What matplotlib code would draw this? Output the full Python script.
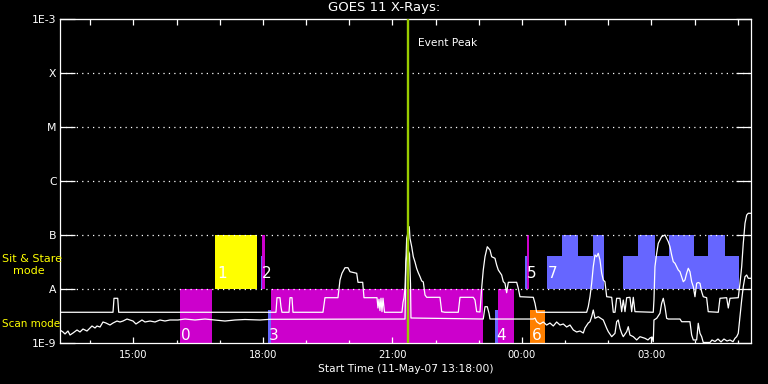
import numpy as np
import matplotlib
matplotlib.use("Agg")
import matplotlib.pyplot as plt
from matplotlib.ticker import NullLocator, NullFormatter

plt.rcParams["lines.scale_dashes"] = False
plt.rcParams["font.family"] = ["DejaVu Sans"]

# ---- GOES 11 data (hours since 11-May-07 13:18, log10 flux W/m^2) ----
long_hours = [
    0.000, 1.228, 1.251, 1.337, 1.360, 5.003, 5.027, 5.096, 5.119, 5.142,
    5.305, 5.328, 5.374, 5.397, 6.092, 6.138, 6.439, 6.486, 6.532, 6.602,
    6.671, 6.718, 6.873, 6.903, 7.012, 7.042, 7.343, 7.366, 7.389, 7.412,
    7.436, 7.459, 7.482, 7.517, 7.922, 7.945, 7.969, 7.992, 8.031, 8.091,
    8.107, 8.147, 8.184, 8.223, 8.262, 8.300, 8.339, 8.378, 8.416, 8.455,
    8.494, 8.802, 8.842, 8.918, 9.226, 9.266, 9.574, 9.613, 9.652, 9.729,
    9.768, 9.805, 9.845, 9.898, 9.961, 10.000, 10.076, 10.115, 10.153, 10.231,
    10.269, 10.308, 10.347, 10.385, 10.579, 10.616, 10.655, 10.964, 11.003, 11.042,
    12.200, 12.237, 12.277, 12.316, 12.353, 12.393, 12.432, 12.469, 12.509, 12.548,
    12.585, 12.624, 12.664, 12.780, 12.817, 12.856, 12.895, 12.972, 13.011, 13.048,
    13.088, 13.127, 13.203, 13.243, 13.280, 13.319, 13.743, 13.759, 13.782, 13.822,
    13.859, 13.937, 14.014, 14.053, 14.091, 14.130, 14.169, 14.206, 14.246, 14.285,
    14.322, 14.362, 14.401, 14.438, 14.477, 14.516, 14.554, 14.593, 14.632, 14.670,
    14.709, 14.748, 14.785, 14.825, 14.864, 14.901, 14.979, 15.016, 15.249, 15.288,
    15.443, 15.481, 15.520, 15.712, 15.752, 15.791, 15.828, 15.868, 15.907, 15.944, 16.000,
]
long_log10 = [
    -8.431, -8.431, -8.172, -8.172, -8.431, -8.431, -8.161, -8.161, -8.333, -8.431,
    -8.431, -8.161, -8.161, -8.431, -8.431, -8.161, -8.161, -7.833, -7.709, -7.606,
    -7.606, -7.680, -7.709, -7.876, -7.876, -8.161, -8.161, -8.352, -8.190, -8.400,
    -8.170, -8.420, -8.170, -8.431, -8.431, -8.250, -8.161, -7.980, -7.060, -6.846,
    -7.060, -7.217, -7.402, -7.500, -7.620, -7.700, -7.770, -7.850, -7.870, -8.110,
    -8.154, -8.154, -8.420, -8.431, -8.431, -8.154, -8.154, -8.204, -8.420, -8.426,
    -7.981, -7.648, -7.402, -7.217, -7.278, -7.402, -7.431, -7.556, -7.648, -7.741,
    -7.865, -7.894, -8.069, -7.876, -7.876, -7.987, -8.143, -8.154, -8.265, -8.431,
    -8.431, -8.328, -8.143, -7.894, -7.587, -7.370, -7.402, -7.339, -7.463, -7.709,
    -7.833, -7.865, -8.143, -8.154, -8.431, -8.431, -8.172, -8.172, -8.420, -8.204,
    -8.420, -8.161, -8.154, -8.420, -8.154, -8.420, -8.431, -8.204, -7.587, -7.339,
    -7.154, -7.031, -7.000, -7.061, -7.124, -7.217, -7.370, -7.494, -7.524, -7.587,
    -7.648, -7.680, -7.772, -7.865, -7.833, -7.709, -7.617, -7.680, -7.865, -7.957,
    -8.143, -7.894, -7.880, -7.894, -8.050, -8.143, -8.161, -8.420, -8.431, -8.172,
    -8.161, -8.352, -8.172, -8.161, -7.894, -7.587, -7.154, -6.783, -6.630, -6.598, -6.598,
]

short_hours = [
    0.000, 0.069, 0.116, 0.185, 0.232, 0.301, 0.394, 0.463, 0.533, 0.625,
    0.695, 0.741, 0.811, 0.857, 0.927, 0.996, 1.066, 1.158, 1.228, 1.320,
    1.390, 1.459, 1.552, 1.621, 1.691, 1.760, 1.830, 1.899, 1.969, 2.085,
    2.201, 2.316, 2.432, 2.548, 2.733, 2.896, 3.127, 3.359, 3.590, 3.822,
    4.054, 4.285, 4.633, 4.864, 7.992, 8.015, 8.050, 8.096, 8.119, 8.130,
    9.805, 9.845, 9.898, 9.938, 9.961, 10.964, 11.003, 11.042, 11.118, 11.196,
    11.273, 11.350, 11.427, 11.505, 11.582, 11.659, 11.736, 11.814, 11.891, 11.968,
    12.045, 12.122, 12.161, 12.237, 12.277, 12.316, 12.353, 12.393, 12.469, 12.585,
    12.664, 12.701, 12.780, 12.856, 12.895, 12.932, 12.972, 13.011, 13.048, 13.127,
    13.164, 13.203, 13.280, 13.359, 13.435, 13.551, 13.620, 13.667, 13.713, 13.743,
    13.759, 13.822, 13.898, 13.937, 13.975, 14.014, 14.053, 14.091, 14.362, 14.401,
    14.593, 14.632, 14.670, 14.748, 14.785, 14.825, 14.864, 14.901, 15.057, 15.103,
    15.173, 15.242, 15.312, 15.381, 15.451, 15.520, 15.590, 15.636, 15.675, 15.712,
    15.752, 15.791, 15.828, 15.868, 15.907, 15.944, 16.000,
]
short_log10 = [
    -8.759, -8.796, -8.833, -8.778, -8.852, -8.815, -8.759, -8.796, -8.741, -8.778,
    -8.722, -8.685, -8.722, -8.685, -8.704, -8.611, -8.630, -8.667, -8.630, -8.593,
    -8.611, -8.593, -8.556, -8.574, -8.593, -8.648, -8.611, -8.574, -8.611, -8.593,
    -8.611, -8.574, -8.593, -8.574, -8.574, -8.556, -8.574, -8.556, -8.574, -8.593,
    -8.574, -8.565, -8.574, -8.561, -8.556, -7.500, -7.250, -7.350, -7.900, -8.537,
    -8.556, -8.328, -8.328, -8.450, -8.556, -8.556, -8.540, -8.606, -8.648, -8.611,
    -8.667, -8.630, -8.685, -8.611, -8.667, -8.648, -8.704, -8.667, -8.759, -8.796,
    -8.778, -8.815, -8.722, -8.630, -8.606, -8.513, -8.389, -8.543, -8.513, -8.574,
    -8.728, -8.790, -8.883, -8.821, -8.606, -8.574, -8.728, -8.821, -8.883, -8.790,
    -8.698, -8.852, -8.883, -8.944, -8.883, -8.913, -8.944, -8.907, -8.889, -8.976,
    -8.574, -8.543, -8.450, -8.265, -8.172, -8.328, -8.543, -8.556, -8.556, -8.606,
    -8.606, -8.852, -8.944, -8.944, -8.635, -8.821, -8.883, -8.990, -8.990, -8.944,
    -8.972, -8.926, -8.981, -8.926, -8.963, -8.944, -8.976, -8.913, -8.883, -8.821,
    -8.513, -8.204, -7.957, -7.772, -7.741, -7.802, -7.802,
]

# ---- observing mode bars ----
bar_start = [2.780, 3.590, 4.656, 4.679, 4.818, 4.888, 10.076, 10.146, 10.771,
             10.818, 10.887, 11.281, 11.628, 12.346, 13.048, 13.396, 14.114, 15.016]
bar_end = [3.521, 4.557, 4.679, 4.749, 4.888, 9.798, 10.146, 10.516, 10.818,
           10.864, 11.235, 12.601, 11.999, 12.601, 15.728, 13.790, 14.693, 15.410]
bar_mode = ["scan", "stare", "stare", "stare", "scan", "scan", "scan", "scan", "stare",
            "stare", "scan", "stare", "stare", "stare", "stare", "stare", "stare", "stare"]
bar_full = [True, True, False, True, False, True, False, True, False,
            True, False, False, True, True, False, True, True, True]
bar_color = ["#cc00cc", "#ffff00", "#6666ff", "#cc00cc", "#6666ff", "#cc00cc", "#6666ff",
             "#cc00cc", "#6666ff", "#cc00cc", "#ff8000", "#6666ff", "#6666ff", "#6666ff",
             "#6666ff", "#6666ff", "#6666ff", "#6666ff"]

label_text = ["0", "1", "2", "3", "4", "5", "6", "7"]
label_hour = [2.803, 3.637, 4.679, 4.841, 10.100, 10.818, 10.933, 11.304]
label_mode = ["scan", "stare", "stare", "scan", "scan", "stare", "scan", "stare"]

peak_hour = 8.054
level_flux = [1e-9, 1e-8, 1e-7, 1e-6, 1e-5, 1e-4, 1e-3]
level_labels = ["1E-9", "A", "B", "C", "M", "X", "1E-3"]
major_hours = [1.7, 4.7, 7.7, 10.7, 13.7]
major_labels = ["15:00", "18:00", "21:00", "00:00", "03:00"]

# band bottoms / tops per mode
band_bottom = {"scan": 1e-9, "stare": 1e-8}
band_top = {"scan": 1e-8, "stare": 1e-7}
band_part = {"scan": 4e-9, "stare": 4e-8}
label_base = {"scan": 10 ** -8.944, "stare": 10 ** -7.796}

fig = plt.figure(figsize=(7.68, 3.84), dpi=100, facecolor="black")
ax = fig.add_axes([60 / 768, 1 - 343 / 384, 690.7 / 768, 324 / 384])
ax.set_facecolor("black")
ax.set_yscale("log")
ax.set_xlim(0, 16)
ax.set_ylim(1e-9, 1e-3)

for s, e, m, full, c in zip(bar_start, bar_end, bar_mode, bar_full, bar_color):
    top = band_top[m] if full else band_part[m]
    bot = band_bottom[m]
    ax.bar(s, top - bot, width=e - s, bottom=bot, align="edge", color=c,
           linewidth=0, zorder=1)

for txt, h, m in zip(label_text, label_hour, label_mode):
    ax.text(h, label_base[m], txt, color="white", fontsize=11, va="baseline",
            ha="left", zorder=3)

for v in level_flux[1:-1]:
    ax.axhline(v, color="white", lw=0.9, linestyle=(0, (0.9, 3.0)), zorder=2)

ax.plot(long_hours, 10 ** np.array(long_log10), color="white", lw=0.9, zorder=4)
ax.plot(short_hours, 10 ** np.array(short_log10), color="white", lw=0.9, zorder=4)

ax.axvline(peak_hour, color="#99cc00", lw=1.7, zorder=5)
ax.text(peak_hour + 0.24, 0.926, "Event Peak", color="white", fontsize=7.7,
        va="center", ha="left", transform=ax.get_xaxis_transform())

# axes styling
for sp in ax.spines.values():
    sp.set_color("white")
    sp.set_linewidth(0.9)

ax.set_yticks(level_flux, labels=level_labels)
ax.yaxis.set_minor_locator(NullLocator())
ax.tick_params(axis="y", which="major", direction="in", length=10.5, width=0.9,
               colors="white", right=True, labelsize=7.8, pad=2.5)

ax.set_xticks(major_hours, labels=major_labels)
ax.set_xticks(np.arange(0.7, 16, 1.0), minor=True)
ax.tick_params(axis="x", which="major", direction="in", length=4.3, width=0.9,
               colors="white", labelsize=7.2, pad=5)
ax.tick_params(axis="x", which="minor", direction="in", length=2.2, width=0.9,
               colors="white")
ax.set_xlabel("Start Time (11-May-07 13:18:00)", color="white", fontsize=7.7, labelpad=3)

top_ax = ax.secondary_xaxis("top")
top_ax.set_xticks(np.arange(0.7, 16, 1.0))
top_ax.xaxis.set_major_formatter(NullFormatter())
top_ax.tick_params(direction="in", length=4.0, width=0.9, colors="white")
top_ax.spines["top"].set_color("white")

fig.text(384 / 768, 1 - 8 / 384, "GOES 11 X-Rays:", color="white", fontsize=9.5,
         ha="center", va="center")
fig.text(2 / 768, 1 - 259 / 384, "Sit & Stare", color="#ffff00", fontsize=8,
         ha="left", va="center")
fig.text(12.7 / 768, 1 - 271 / 384, "mode", color="#ffff00", fontsize=8,
         ha="left", va="center")
fig.text(2 / 768, 1 - 324 / 384, "Scan mode", color="#ffff00", fontsize=7.5,
         ha="left", va="center")

fig.savefig("out.png", dpi=100, facecolor="black")
